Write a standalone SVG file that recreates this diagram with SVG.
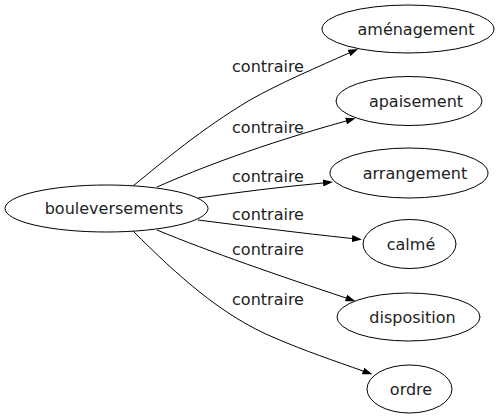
<svg xmlns="http://www.w3.org/2000/svg" width="502" height="419" viewBox="0 0 502 419">
<defs>
<style>
.n ellipse{fill:#fff;stroke:#000;stroke-width:1}
.n text,.lbl text{font-family:"DejaVu Sans",sans-serif;font-size:16px;fill:#222;text-anchor:middle}
.e path{fill:none;stroke:#000;stroke-width:1}
</style>
<marker id="ah" markerWidth="10" markerHeight="7" refX="0" refY="3.5" orient="auto" markerUnits="userSpaceOnUse">
<path d="M0,0 L10,3.5 L0,7 z" fill="#000"/>
</marker>
</defs>
<rect width="502" height="419" fill="#fff"/>
<g id="edges" class="e">
<path d="M133,186 C165,160 200,130 250,100 C280,83 320,66 349,53" marker-end="url(#ah)"/>
<path d="M157,187 C200,168 260,145 346,121" marker-end="url(#ah)"/>
<path d="M198,198 C240,192 280,187 323,183" marker-end="url(#ah)"/>
<path d="M198,220 C245,226 300,233 352,238.5" marker-end="url(#ah)"/>
<path d="M157,230 C210,252 280,276 346,298" marker-end="url(#ah)"/>
<path d="M133,231 C178,276 222,316 275,338 C305,351 335,361 363,371" marker-end="url(#ah)"/>
</g>
<g id="labels" class="lbl">
<text x="268" y="72">contraire</text>
<text x="268" y="133">contraire</text>
<text x="268" y="182">contraire</text>
<text x="268" y="220">contraire</text>
<text x="268" y="255">contraire</text>
<text x="268" y="305">contraire</text>
</g>
<g id="n0" class="n"><ellipse cx="106.5" cy="208.5" rx="101.5" ry="23.5"/><text x="114" y="214">bouleversements</text></g>
<g id="n1" class="n"><ellipse cx="408" cy="29" rx="86" ry="24"/><text x="416" y="35">aménagement</text></g>
<g id="n2" class="n"><ellipse cx="409" cy="101" rx="73" ry="24.5"/><text x="416" y="107">apaisement</text></g>
<g id="n3" class="n"><ellipse cx="409" cy="173" rx="79" ry="25"/><text x="415" y="179">arrangement</text></g>
<g id="n4" class="n"><ellipse cx="409.5" cy="244" rx="46.5" ry="24.5"/><text x="411" y="250">calmé</text></g>
<g id="n5" class="n"><ellipse cx="408.5" cy="317" rx="71.5" ry="24"/><text x="412.5" y="323">disposition</text></g>
<g id="n6" class="n"><ellipse cx="409.5" cy="389" rx="42.5" ry="24"/><text x="411" y="395">ordre</text></g>
</svg>
